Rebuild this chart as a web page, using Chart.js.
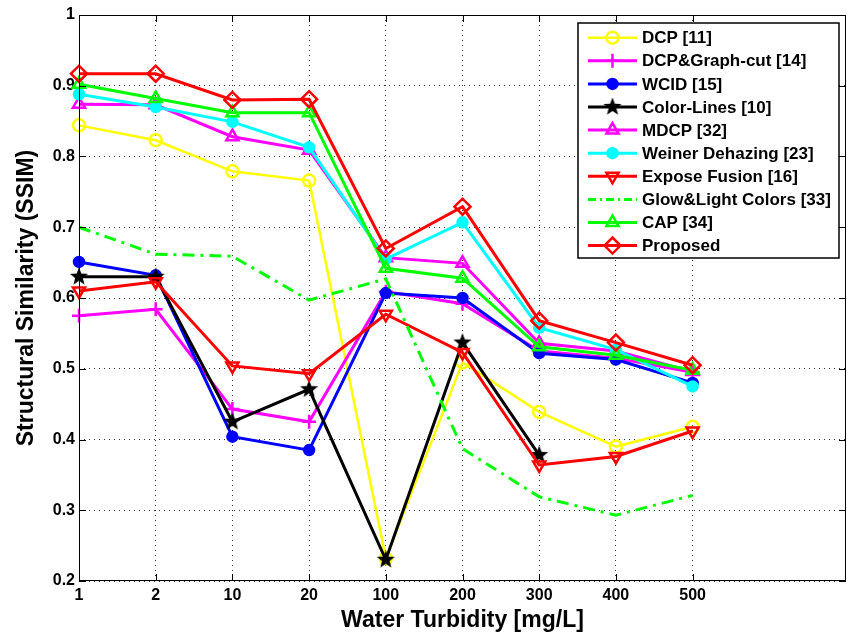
<!DOCTYPE html>
<html lang="en">
  <head>
    <meta charset="UTF-8" />
    <title>Structural Similarity vs Water Turbidity</title>
    <script src="https://cdn.jsdelivr.net/npm/chart.js"></script>
    <style>
      html,
      body {
        margin: 0;
        padding: 0;
        background: #fff;
      }
      #wrap {
        width: 847px;
        height: 643px;
      }
    </style>
  </head>
  <body>
    <div id="wrap"><canvas id="ssimChart" width="847" height="643"></canvas></div>

    <script>
      // x categories (turbidity, mg/L) - plotted evenly spaced
      const turbidity = ["1", "2", "10", "20", "100", "200", "300", "400", "500"];
      const yTicks = [0.2, 0.3, 0.4, 0.5, 0.6, 0.7, 0.8, 0.9, 1];

      const dcp = [0.844, 0.823, 0.779, 0.766, 0.232, 0.509, 0.439, 0.39, 0.418];
      const graphCut = [0.575, 0.584, 0.443, 0.425, 0.609, 0.592, 0.525, 0.515, 0.495];
      const wcid = [0.651, 0.632, 0.404, 0.385, 0.607, 0.6, 0.522, 0.513, 0.48];
      const colorLines = [0.63, 0.63, 0.425, 0.471, 0.23, 0.537, 0.378, null, null];
      const mdcp = [0.874, 0.873, 0.828, 0.809, 0.657, 0.649, 0.536, 0.525, 0.496];
      const weiner = [0.888, 0.87, 0.849, 0.813, 0.655, 0.707, 0.558, 0.527, 0.475];
      const exposeFusion = [0.61, 0.623, 0.504, 0.493, 0.577, 0.523, 0.364, 0.376, 0.412];
      const glowLight = [0.7, 0.662, 0.659, 0.597, 0.627, 0.387, 0.319, 0.293, 0.321];
      const cap = [0.902, 0.882, 0.862, 0.862, 0.642, 0.628, 0.531, 0.519, 0.498];
      const proposed = [0.917, 0.917, 0.88, 0.881, 0.67, 0.729, 0.568, 0.537, 0.505];

      const FONT = "'Liberation Sans', Arial, Helvetica, sans-serif";
      Chart.defaults.font.family = FONT;
      Chart.defaults.color = "#000";

      // filled five point star marker (matlab pentagram)
      function makeStar(size, color) {
        const c = document.createElement("canvas");
        c.width = c.height = size;
        const g = c.getContext("2d");
        const R = size / 2 - 0.5;
        const r = R * 0.42;
        g.beginPath();
        for (let i = 0; i < 10; i++) {
          const ang = -Math.PI / 2 + (i * Math.PI) / 5;
          const rad = i % 2 ? r : R;
          g.lineTo(size / 2 + rad * Math.cos(ang), size / 2 + rad * Math.sin(ang));
        }
        g.closePath();
        g.fillStyle = color;
        g.fill();
        return c;
      }
      const starImg = makeStar(20, "#000");

      const toPoints = (arr) => arr.map((v, i) => ({ x: i, y: v }));
      const none = "rgba(0,0,0,0)";

      function series(label, values, color, style, extra) {
        return Object.assign(
          {
            label: label,
            data: toPoints(values),
            borderColor: color,
            backgroundColor: color,
            borderWidth: 3,
            pointStyle: style,
            pointRadius: 6,
            pointBorderWidth: 2.5,
            pointBorderColor: color,
            pointBackgroundColor: none,
            tension: 0,
            clip: false,
            spanGaps: false,
          },
          extra || {}
        );
      }

      const datasets = [
        series("DCP [11]", dcp, "#ffff00", "circle", { borderWidth: 2.5 }),
        series("DCP&Graph-cut [14]", graphCut, "#ff00ff", "cross", { pointRadius: 7 }),
        series("WCID [15]", wcid, "#0000ff", "circle", { pointRadius: 5, pointBackgroundColor: "#0000ff" }),
        series("Color-Lines [10]", colorLines, "#000000", starImg),
        series("MDCP [32]", mdcp, "#ff00ff", "triangle", { pointRadius: 7 }),
        series("Weiner Dehazing [23]", weiner, "#00ffff", "circle", { pointRadius: 5, pointBackgroundColor: "#00ffff" }),
        series("Expose Fusion [16]", exposeFusion, "#ff0000", "triangle", { pointRadius: 7, pointRotation: 180 }),
        series("Glow&Light Colors [33]", glowLight, "#00ff00", "circle", { pointRadius: 0, borderDash: [12, 6, 3, 6] }),
        series("CAP [34]", cap, "#00ff00", "triangle", { pointRadius: 7 }),
        series("Proposed", proposed, "#ff0000", "rectRot", { pointRadius: 8 }),
      ];
      // later entries are drawn on top, like matlab
      datasets.forEach((d, i) => (d.order = datasets.length - i));

      const framePlugin = {
        id: "frame",
        afterDatasetsDraw(chart) {
          const { ctx, chartArea: a, scales } = chart;
          ctx.save();
          ctx.strokeStyle = "#000";
          ctx.lineWidth = 1;
          ctx.strokeRect(Math.round(a.left) + 0.5, Math.round(a.top) + 0.5, Math.round(a.right - a.left) - 1, Math.round(a.bottom - a.top) - 1);
          ctx.beginPath();
          turbidity.forEach((t, i) => {
            const x = Math.round(scales.x.getPixelForValue(i)) + 0.5;
            ctx.moveTo(x, a.bottom);
            ctx.lineTo(x, a.bottom - 7);
            ctx.moveTo(x, a.top);
            ctx.lineTo(x, a.top + 7);
          });
          yTicks.forEach((v) => {
            const y = Math.round(scales.y.getPixelForValue(v)) + 0.5;
            ctx.moveTo(a.left, y);
            ctx.lineTo(a.left + 7, y);
            ctx.moveTo(a.right, y);
            ctx.lineTo(a.right - 7, y);
          });
          ctx.stroke();
          ctx.restore();
        },
        afterDraw(chart) {
          // legend box, top right inside the axes
          const ctx = chart.ctx;
          const box = { left: 578, top: 23, right: 839, bottom: 258 };
          ctx.save();
          ctx.fillStyle = "#fff";
          ctx.fillRect(box.left, box.top, box.right - box.left, box.bottom - box.top);
          ctx.strokeStyle = "#000";
          ctx.lineWidth = 1.5;
          ctx.strokeRect(box.left, box.top, box.right - box.left, box.bottom - box.top);
          ctx.font = "bold 17px " + FONT;
          ctx.textBaseline = "middle";
          chart.data.datasets.forEach((d, i) => {
            const y = 37.7 + i * 23.1;
            ctx.save();
            ctx.strokeStyle = d.borderColor;
            ctx.lineWidth = d.borderWidth;
            ctx.setLineDash(d.borderDash ? [8, 4, 2, 4] : []);
            ctx.beginPath();
            ctx.moveTo(588, y);
            ctx.lineTo(637, y);
            ctx.stroke();
            ctx.restore();
            if (d.pointRadius > 0) {
              ctx.save();
              ctx.strokeStyle = d.pointBorderColor;
              ctx.fillStyle = d.pointBackgroundColor;
              ctx.lineWidth = d.pointBorderWidth;
              Chart.helpers.drawPoint(
                ctx,
                { pointStyle: d.pointStyle, rotation: d.pointRotation || 0, radius: d.pointRadius, borderWidth: d.pointBorderWidth },
                612.5,
                y
              );
              ctx.restore();
            }
            ctx.fillStyle = "#000";
            ctx.fillText(d.label, 642, y + 1);
          });
          ctx.restore();
        },
      };

      new Chart(document.getElementById("ssimChart"), {
        type: "line",
        data: { datasets: datasets },
        options: {
          responsive: false,
          animation: false,
          layout: { autoPadding: false, padding: { top: 15, right: 1, left: 0, bottom: 0 } },
          plugins: {
            legend: { display: false },
            tooltip: { enabled: false },
          },
          scales: {
            x: {
              type: "linear",
              min: 0,
              max: 10,
              afterBuildTicks: (scale) => {
                scale.ticks = turbidity.map((t, i) => ({ value: i }));
              },
              afterFit: (scale) => {
                scale.height = 62;
                scale.paddingLeft = 0;
                scale.paddingRight = 0;
              },
              ticks: {
                padding: 5,
                maxRotation: 0,
                autoSkip: false,
                font: { size: 16, weight: "bold" },
                callback: (v) => turbidity[v],
              },
              grid: { drawTicks: false, color: "rgba(0,0,0,0.8)", lineWidth: 1 },
              border: { display: false, dash: [1, 4] },
              title: {
                display: true,
                text: "Water Turbidity [mg/L]",
                font: { size: 23, weight: "bold" },
                padding: { top: 0, bottom: 9 },
              },
            },
            y: {
              min: 0.2,
              max: 1,
              afterBuildTicks: (scale) => {
                scale.ticks = yTicks.map((v) => ({ value: v }));
              },
              afterFit: (scale) => {
                scale.width = 79;
              },
              ticks: {
                padding: 4,
                font: { size: 16, weight: "bold" },
                callback: (v) => String(Number(v.toFixed(1))),
              },
              grid: { drawTicks: false, color: "rgba(0,0,0,0.8)", lineWidth: 1 },
              border: { display: false, dash: [1, 4] },
              title: {
                display: true,
                text: "Structural Similarity (SSIM)",
                font: { size: 23, weight: "bold" },
                padding: { top: 13, bottom: 0 },
              },
            },
          },
        },
        plugins: [framePlugin],
      });
    </script>
  </body>
</html>
